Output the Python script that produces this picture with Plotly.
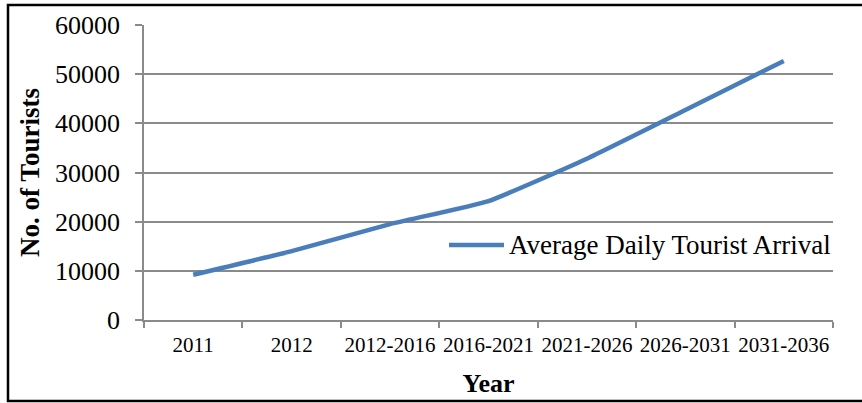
import plotly.graph_objects as go

# Projected average daily tourist arrivals by period
periods = ["2011", "2012", "2012-2016", "2016-2021", "2021-2026", "2026-2031", "2031-2036"]
arrivals = [9200, 14000, 19500, 24200, 32800, 42700, 52700]
y_ticks = [0, 10000, 20000, 30000, 40000, 50000, 60000]
series_name = "Average Daily Tourist Arrival"

W, H = 862, 403
L, R, T, B = 144, 29, 25, 83
plot_w = W - L - R
plot_h = H - T - B


def px_x(px):
    return (px - L) / plot_w


def px_y(py):
    return (H - B - py) / plot_h


FONT = "Liberation Serif, Times New Roman, serif"
LINE_BLUE = "#4A7EBB"
GRID = "#8A8A8A"

fig = go.Figure()
fig.add_trace(go.Scatter(
    x=periods, y=arrivals, mode="lines", name=series_name,
    line=dict(color=LINE_BLUE, width=4.5, shape="spline", smoothing=0.4),
    showlegend=False,
))

fig.update_layout(
    width=W, height=H,
    margin=dict(l=L, r=R, t=T, b=B, autoexpand=False),
    paper_bgcolor="white", plot_bgcolor="white",
    font=dict(family=FONT, color="black"),
    xaxis=dict(
        type="category", tickson="boundaries", tickangle=0, automargin=False,
        ticks="outside", ticklen=6, tickcolor=GRID, tickwidth=1.5,
        showline=True, linecolor=GRID, linewidth=1.5,
        showgrid=False, tickfont=dict(size=21, family=FONT),
        ticklabelstandoff=5,
        title=dict(text="<b>Year</b>", font=dict(size=26, family=FONT), standoff=18),
        range=[-0.5, len(periods) - 0.5],
    ),
    yaxis=dict(
        range=[0, 60000], tickvals=y_ticks, ticktext=[str(v) for v in y_ticks],
        automargin=False,
        ticks="outside", ticklen=7, tickcolor=GRID, tickwidth=1.5,
        showline=True, linecolor=GRID, linewidth=1.5,
        showgrid=True, gridcolor=GRID, gridwidth=1.5,
        zeroline=False, tickfont=dict(size=26, family=FONT),
        ticklabelstandoff=10,
        title=dict(text="<b>No. of Tourists</b>", font=dict(size=27, family=FONT), standoff=8),
    ),
)

# Outer frame around the chart
fig.add_shape(type="rect", xref="paper", yref="paper",
              x0=px_x(8), x1=px_x(875), y0=px_y(401), y1=px_y(5),
              line=dict(color="black", width=2.5), fillcolor="rgba(0,0,0,0)", layer="above")

# Legend: line sample plus label
fig.add_shape(type="line", xref="paper", yref="paper",
              x0=px_x(449), x1=px_x(504), y0=px_y(245), y1=px_y(245),
              line=dict(color=LINE_BLUE, width=4.5))
fig.add_annotation(xref="paper", yref="paper", x=px_x(507), y=px_y(245),
                   text=series_name, showarrow=False, xanchor="left", yanchor="middle",
                   font=dict(size=27, family=FONT, color="black"), bgcolor="white")

fig.write_html("out.html")
